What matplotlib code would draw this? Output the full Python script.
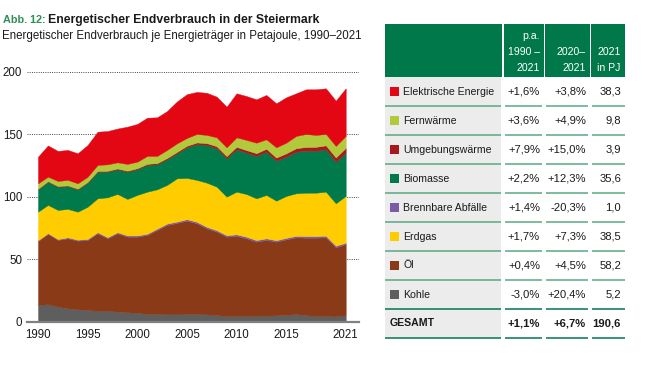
import matplotlib
matplotlib.use("Agg")
import matplotlib.pyplot as plt
from matplotlib.patches import Rectangle
import numpy as np

# Jahre und Endverbrauch je Energietraeger in PJ
years = list(range(1990, 2022))
kohle = [13.4, 14.0, 12.0, 10.7, 9.9, 9.4, 8.8, 8.8, 8.0, 7.5, 7.2, 6.1, 6.1, 5.9, 5.9, 6.1,
         6.1, 5.9, 5.3, 4.5, 4.5, 4.8, 4.8, 4.8, 5.1, 5.6, 6.1, 5.3, 4.5, 4.5, 4.3, 5.2]
oel = [51.1, 56.2, 53.4, 56.0, 54.9, 56.0, 61.9, 57.9, 62.7, 60.5, 60.8, 63.3, 67.3, 71.5, 73.1, 74.7,
       72.6, 68.8, 66.7, 63.5, 64.1, 61.9, 59.2, 60.6, 58.9, 60.3, 61.4, 61.9, 62.7, 63.0, 55.2, 57.0]
abfaelle = [0.7, 0.7, 0.7, 0.8, 0.8, 0.8, 0.9, 0.9, 0.9, 1.0, 1.0, 1.0, 1.1, 1.1, 1.1, 1.2,
            1.2, 1.2, 1.2, 1.2, 1.3, 1.3, 1.3, 1.3, 1.2, 1.2, 1.2, 1.3, 1.3, 1.3, 1.3, 1.0]
erdgas = [22.8, 22.5, 23.3, 22.7, 22.4, 25.8, 27.1, 31.9, 30.6, 29.2, 32.4, 33.6, 31.4, 30.9, 34.6, 33.0,
          33.5, 35.3, 34.8, 30.8, 34.1, 34.1, 33.4, 34.7, 31.6, 33.5, 34.0, 34.7, 34.7, 35.2, 33.9, 37.4]
biomasse = [17.9, 18.6, 18.6, 18.3, 17.9, 19.2, 21.3, 20.5, 19.7, 21.8, 20.5, 21.4, 20.0, 20.5, 20.0, 24.5,
            28.6, 30.2, 30.7, 30.7, 33.9, 33.1, 33.9, 34.6, 32.0, 31.4, 33.3, 33.6, 33.6, 33.9, 33.3, 34.6]
umgebung = [0.4, 0.4, 0.5, 0.5, 0.5, 0.6, 0.6, 0.7, 0.7, 0.8, 0.9, 0.9, 1.0, 1.1, 1.2, 1.3,
            1.4, 1.5, 1.7, 1.8, 2.0, 2.1, 2.2, 2.4, 2.5, 2.7, 2.8, 3.0, 3.1, 3.2, 3.4, 3.9]
fernwaerme = [4.4, 3.6, 4.1, 4.4, 4.3, 4.2, 4.8, 5.2, 4.9, 5.4, 5.2, 6.3, 5.7, 6.4, 6.8, 6.2,
              6.8, 6.5, 7.1, 7.0, 7.6, 8.1, 8.4, 7.5, 8.2, 8.5, 9.8, 10.4, 9.5, 9.1, 9.2, 9.5]
elektrisch = [21.3, 25.0, 24.0, 24.0, 24.0, 25.4, 26.6, 26.6, 27.0, 29.8, 30.2, 30.6, 30.9, 31.1, 33.5, 35.0,
              33.6, 33.7, 32.5, 32.5, 35.2, 35.1, 34.7, 35.5, 35.2, 36.3, 34.1, 35.7, 36.5, 36.5, 36.2, 38.1]

# Tabelle
labels = ["Elektrische Energie", "Fernwärme", "Umgebungswärme", "Biomasse",
          "Brennbare Abfälle", "Erdgas", "Öl", "Kohle"]
pa_1990_2021 = ["+1,6%", "+3,6%", "+7,9%", "+2,2%", "+1,4%", "+1,7%", "+0,4%", "-3,0%"]
chg_2020_2021 = ["+3,8%", "+4,9%", "+15,0%", "+12,3%", "-20,3%", "+7,3%", "+4,5%", "+20,4%"]
pj_2021 = ["38,3", "9,8", "3,9", "35,6", "1,0", "38,5", "58,2", "5,2"]
gesamt = ["GESAMT", "+1,1%", "+6,7%", "190,6"]
header_cols = [["p.a.", "1990 –", "2021"], ["2020–", "2021"], ["2021", "in PJ"]]

colors = {"Kohle": "#5e5e5e", "Öl": "#8a3a16", "Brennbare Abfälle": "#7b5aa6",
          "Erdgas": "#ffcc00", "Biomasse": "#007a4a", "Umgebungswärme": "#a8191e",
          "Fernwärme": "#b1c93a", "Elektrische Energie": "#e30613"}

GREEN = "#00784a"
TXT = "#1a1a1a"
plt.rcParams['font.family'] = ['Liberation Sans', 'DejaVu Sans']
narrow = ['Liberation Sans Narrow', 'Liberation Sans']

fig = plt.figure(figsize=(6.55, 3.74), dpi=100)
fig.patch.set_facecolor('white')

# --- Flaechendiagramm ---
ax = fig.add_axes([27/655, 1 - 321.7/374, 332/655, 250/374])
stack_order = ["Kohle", "Öl", "Brennbare Abfälle", "Erdgas", "Biomasse",
               "Umgebungswärme", "Fernwärme", "Elektrische Energie"]
series = [kohle, oel, abfaelle, erdgas, biomasse, umgebung, fernwaerme, elektrisch]
cols = [colors[n] for n in stack_order]
polys = ax.stackplot(years, *series, colors=cols, linewidth=0.3)
for p, c in zip(polys, cols):
    p.set_edgecolor(c)

ax.set_xlim(1990 - 11/9.93, 2021 + 13.3/9.93)
ax.set_ylim(0, 200)
ax.set_yticks([0, 50, 100, 150, 200])
ax.set_xticks([1990, 1995, 2000, 2005, 2010, 2015, 2021])
ax.yaxis.grid(True, linestyle=(0, (1, 1.3)), color='#444444', linewidth=0.7)
ax.set_axisbelow(True)
for s in ['left', 'top', 'right']:
    ax.spines[s].set_visible(False)
ax.spines['bottom'].set_color('#808080')
ax.spines['bottom'].set_linewidth(1.6)
ax.spines['bottom'].set_zorder(5)
ax.tick_params(axis='y', length=0, pad=3.5, labelsize=8.3, labelcolor=TXT)
ax.tick_params(axis='x', length=0, pad=5, labelsize=8.3, labelcolor=TXT)

# --- Overlay in Pixelkoordinaten fuer Titel und Tabelle ---
ov = fig.add_axes([0, 0, 1, 1])
ov.set_xlim(0, 655)
ov.set_ylim(374, 0)
ov.axis('off')

ov.text(3, 23.3, "Abb. 12:", color="#2f8f55", fontsize=7.8, fontweight='bold',
        family=narrow, va='baseline')
ov.text(47.5, 23.3, "Energetischer Endverbrauch in der Steiermark", color=TXT, fontsize=8.8,
        fontweight='bold', family=narrow, va='baseline')
ov.text(2, 38.5, "Energetischer Endverbrauch je Energieträger in Petajoule, 1990–2021",
        color=TXT, fontsize=8.3, va='baseline')

# Tabellenkopf
hx = [(385, 502), (503.5, 544), (545.3, 590), (591.3, 625)]
for x0, x1 in hx:
    ov.add_patch(Rectangle((x0, 24), x1 - x0, 53, facecolor=GREEN, edgecolor='none'))
right_edges = [540, 585.5, 620.5]
for lines, xr in zip(header_cols, right_edges):
    ys = [36, 51.7, 68.3][-len(lines):]
    for t, yy in zip(lines, ys):
        ov.text(xr, yy, t, color='white', fontsize=7.6, ha='right', va='center')

# Tabellenzeilen
top = 77
rh = 29
nrows = len(labels) + 1
ov.add_patch(Rectangle((385, top), 116, rh * nrows, facecolor='#ececec', edgecolor='none'))
segs = [(385, 501), (505, 542), (546, 588), (592, 625)]
num_right = [540, 586, 621]
for i in range(nrows):
    yc = top + rh * i + rh / 2
    ysep = top + rh * (i + 1)
    lc = GREEN if i >= nrows - 2 else '#5aa882'
    for x0, x1 in segs:
        ov.plot([x0, x1], [ysep, ysep], color=lc, lw=1.1, solid_capstyle='butt')
    if i < len(labels):
        ov.add_patch(Rectangle((390, yc - 4.8), 9, 9, facecolor=colors[labels[i]], edgecolor='none'))
        ov.text(403, yc, labels[i], color=TXT, fontsize=7.6, va='center')
        vals = [pa_1990_2021[i], chg_2020_2021[i], pj_2021[i]]
        for v, xr in zip(vals, num_right):
            ov.text(xr, yc, v, color=TXT, fontsize=8.1, ha='right', va='center')
    else:
        ov.text(390, yc, gesamt[0], color=TXT, fontsize=7.6, fontweight='bold', va='center')
        for v, xr in zip(gesamt[1:], num_right):
            ov.text(xr, yc, v, color=TXT, fontsize=8.1, fontweight='bold', ha='right', va='center')

fig.savefig('out.png', dpi=100)
plt.close(fig)
